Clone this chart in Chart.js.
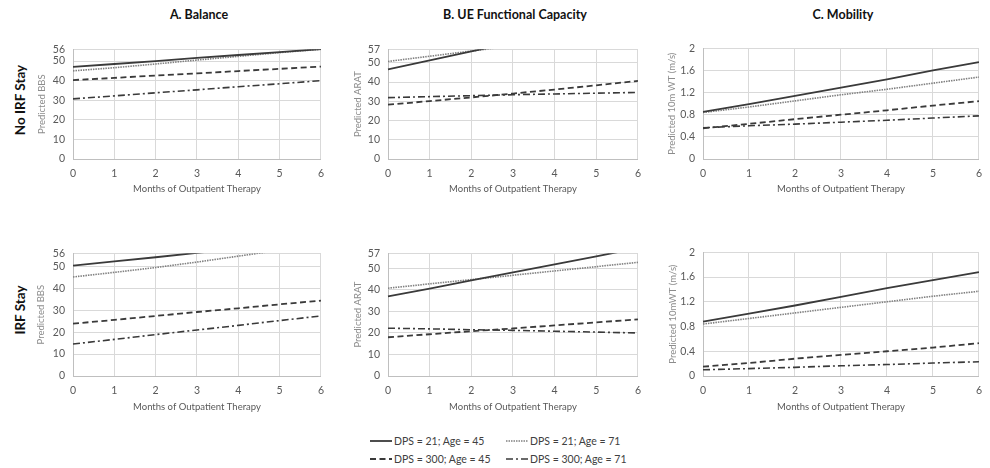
<!DOCTYPE html>
<html>
<head>
<meta charset="utf-8">
<script src="https://cdn.jsdelivr.net/npm/chart.js@4.4.0/dist/chart.umd.min.js"></script>
<style>
  body { margin: 0; background: #fff; }
  #wrap { position: relative; width: 990px; height: 468px; font-family: Lato, "Open Sans", sans-serif; }
  canvas { position: absolute; }
  .title { position: absolute; font-weight: bold; font-size: 12.5px; color: #111; transform: translateX(-50%); white-space: nowrap; }
  .row { position: absolute; font-weight: bold; font-size: 13.5px; color: #111; transform: translate(-50%, -50%) rotate(-90deg); white-space: nowrap; }
  .leg { position: absolute; font-size: 10.5px; color: #404040; white-space: nowrap; display: flex; align-items: center; }
  .leg svg { margin-right: 2px; }
</style>
</head>
<body>
<div id="wrap">
  <div class="title" style="left:199px; top:7px;">A. Balance</div>
  <div class="title" style="left:515px; top:7px;">B. UE Functional Capacity</div>
  <div class="title" style="left:843px; top:7px;">C. Mobility</div>
  <div class="row" style="left:20px; top:100px;">No IRF Stay</div>
  <div class="row" style="left:20px; top:310px;">IRF Stay</div>
  <div id="legend"></div>
</div>
<script>
const months = ['0', '1', '2', '3', '4', '5', '6'];
const seriesLabels = ['DPS = 21; Age = 45', 'DPS = 21; Age = 71', 'DPS = 300; Age = 45', 'DPS = 300; Age = 71'];

const bbsTicks = [0, 10, 20, 30, 40, 50, 56];
const aratTicks = [0, 10, 20, 30, 40, 50, 57];
const wtTicks = [0, 0.4, 0.8, 1.2, 1.6, 2];

// No IRF stay
const bbsNoIrf = [
    [47.0, 48.5, 50.0, 51.6, 53.1, 54.6, 56.1],
    [45.0, 46.6, 48.5, 50.5, 52.4, 54.3, 56.0],
    [40.3, 41.4, 42.6, 43.7, 44.9, 46.0, 47.2],
    [30.7, 32.2, 33.8, 35.3, 36.9, 38.4, 40.0]
];
const aratNoIrf = [
    [46.6, 51.2, 55.9, 60.5, 65.2, 69.8, 74.4],
    [50.7, 53.4, 56.1, 58.8, 61.5, 64.2, 66.9],
    [28.2, 30.1, 32.0, 34.0, 36.1, 38.3, 40.6],
    [31.9, 32.4, 32.9, 33.4, 33.8, 34.2, 34.6]
];
const wtNoIrf = [
    [0.85, 0.99, 1.14, 1.29, 1.44, 1.60, 1.75],
    [0.84, 0.94, 1.05, 1.16, 1.26, 1.37, 1.48],
    [0.555, 0.635, 0.72, 0.80, 0.88, 0.965, 1.045],
    [0.565, 0.60, 0.63, 0.665, 0.70, 0.74, 0.78]
];

// IRF stay
const bbsIrf = [
    [50.4, 52.3, 54.2, 56.2, 58.2, 60.2, 62.2],
    [45.2, 47.3, 49.5, 52.0, 54.7, 57.4, 60.1],
    [23.9, 25.6, 27.4, 29.2, 30.9, 32.7, 34.4],
    [14.6, 16.7, 18.9, 21.0, 23.1, 25.3, 27.4]
];
const aratIrf = [
    [37.0, 40.6, 44.4, 48.1, 51.9, 55.6, 59.4],
    [40.8, 42.8, 44.8, 46.8, 48.8, 50.8, 52.8],
    [18.0, 19.4, 20.8, 22.1, 23.5, 24.9, 26.3],
    [22.2, 21.9, 21.5, 21.2, 20.8, 20.4, 20.0]
];
const wtIrf = [
    [0.88, 1.01, 1.14, 1.28, 1.42, 1.55, 1.68],
    [0.84, 0.93, 1.02, 1.11, 1.20, 1.29, 1.37],
    [0.15, 0.21, 0.28, 0.34, 0.40, 0.46, 0.53],
    [0.10, 0.12, 0.14, 0.165, 0.185, 0.21, 0.23]
];

const lineStyles = [
    { color: '#3a3a3a', width: 1.8, dash: [] },
    { color: '#808080', width: 1.6, dash: [1.5, 1] },
    { color: '#3a3a3a', width: 1.8, dash: [6, 3.5] },
    { color: '#3a3a3a', width: 1.6, dash: [7, 3, 2, 3] }
];

const wrap = document.getElementById('wrap');

function makePanel(plot, yTitle, ticks, values) {
    const cLeft = plot.yTitleX - 6;
    const cTop = plot.top - 8;
    const cRight = plot.right + 6;
    const cBottom = plot.xTitleY + 6;
    const canvas = document.createElement('canvas');
    canvas.width = cRight - cLeft;
    canvas.height = cBottom - cTop;
    canvas.style.left = cLeft + 'px';
    canvas.style.top = cTop + 'px';
    wrap.appendChild(canvas);

    new Chart(canvas, {
        type: 'line',
        data: {
            labels: months,
            datasets: values.map((v, i) => ({
                label: seriesLabels[i],
                data: v,
                borderColor: lineStyles[i].color,
                borderWidth: lineStyles[i].width,
                borderDash: lineStyles[i].dash,
                pointRadius: 0,
                tension: 0,
                fill: false
            }))
        },
        options: {
            responsive: false,
            animation: false,
            layout: { padding: { top: 8, right: 6, left: 0, bottom: 0 } },
            plugins: { legend: { display: false }, tooltip: { enabled: false } },
            scales: {
                x: {
                    grid: { color: '#d9d9d9', drawTicks: false },
                    border: { color: '#bfbfbf' },
                    ticks: { color: '#595959', font: { family: 'Lato', size: 10.5 }, padding: 8, maxRotation: 0 },
                    title: { display: true, text: 'Months of Outpatient Therapy', color: '#595959', font: { family: 'Lato', size: 9.5 }, padding: 0 },
                    afterFit: s => { s.height = cBottom - plot.bottom; }
                },
                y: {
                    min: 0,
                    max: ticks[ticks.length - 1],
                    grid: { color: '#d9d9d9', drawTicks: false },
                    border: { color: '#bfbfbf' },
                    ticks: { color: '#595959', font: { family: 'Lato', size: 10.5 }, padding: 8, autoSkip: false, callback: v => String(v) },
                    afterBuildTicks: s => { s.ticks = ticks.map(v => ({ value: v })); },
                    title: { display: true, text: yTitle, color: '#8c8c8c', font: { family: 'Lato', size: 9.5 }, padding: 0 },
                    afterFit: s => { s.width = plot.left - cLeft; }
                }
            }
        }
    });
}

makePanel({ left: 73, right: 326, top: 43, bottom: 159, yTitleX: 42, xTitleY: 189 }, 'Predicted BBS', bbsTicks, bbsNoIrf);
makePanel({ left: 388, right: 643, top: 43, bottom: 159, yTitleX: 358, xTitleY: 189 }, 'Predicted ARAT', aratTicks, aratNoIrf);
makePanel({ left: 703, right: 984, top: 42, bottom: 159, yTitleX: 672, xTitleY: 189 }, 'Predicted 10m WT (m/s)', wtTicks, wtNoIrf);
makePanel({ left: 73, right: 326, top: 247, bottom: 376, yTitleX: 41, xTitleY: 407 }, 'Predicted BBS', bbsTicks, bbsIrf);
makePanel({ left: 388, right: 643, top: 247, bottom: 376, yTitleX: 358, xTitleY: 407 }, 'Predicted ARAT', aratTicks, aratIrf);
makePanel({ left: 703, right: 984, top: 246, bottom: 376, yTitleX: 673, xTitleY: 407 }, 'Predicted 10mWT (m/s)', wtTicks, wtIrf);

// legend, built from the same series labels and styles
const legendPos = [[370, 442], [506, 442], [370, 460], [506, 460]];
const legend = document.getElementById('legend');
seriesLabels.forEach((lab, i) => {
    const st = lineStyles[i];
    const div = document.createElement('div');
    div.className = 'leg';
    div.style.left = legendPos[i][0] + 'px';
    div.style.top = (legendPos[i][1] - 7) + 'px';
    div.innerHTML = '<svg width="22" height="6"><line x1="0" y1="3" x2="22" y2="3" stroke="' + st.color +
        '" stroke-width="' + st.width + '" stroke-dasharray="' + (st.dash.length ? st.dash.join(',') : 'none') + '"/></svg>' +
        '<span>' + lab + '</span>';
    legend.appendChild(div);
});
</script>
</body>
</html>
